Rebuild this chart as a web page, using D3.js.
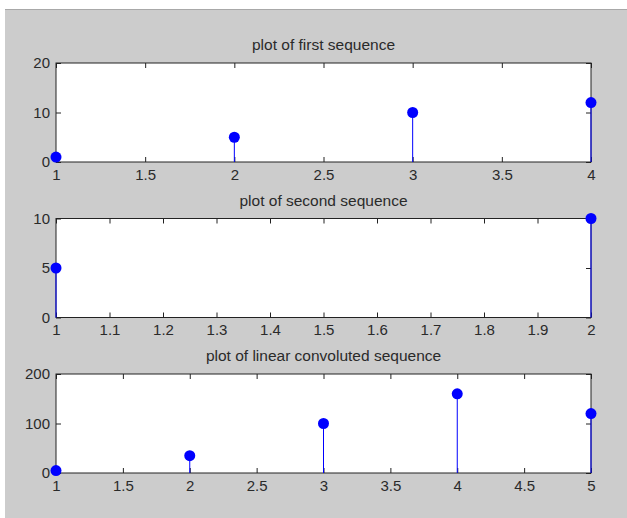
<!DOCTYPE html>
<html>
<head>
<meta charset="utf-8">
<script src="https://cdn.jsdelivr.net/npm/d3@7"></script>
<style>
  body { margin: 0; background: #fff; }
  text { font-family: "Liberation Sans", Arial, sans-serif; }
</style>
</head>
<body>
<script>
// sequences
var firstN = [1, 2, 3, 4];
var firstVals = [1, 5, 10, 12];
var secondN = [1, 2];
var secondVals = [5, 10];
var convN = [1, 2, 3, 4, 5];
var convVals = [5, 35, 100, 160, 120];

var titles = ["plot of first sequence", "plot of second sequence", "plot of linear convoluted sequence"];
var xTicks1 = [1, 1.5, 2, 2.5, 3, 3.5, 4];
var xTicks2 = [1, 1.1, 1.2, 1.3, 1.4, 1.5, 1.6, 1.7, 1.8, 1.9, 2];
var xTicks3 = [1, 1.5, 2, 2.5, 3, 3.5, 4, 4.5, 5];
var yTicks1 = [0, 10, 20];
var yTicks2 = [0, 5, 10];
var yTicks3 = [0, 100, 200];

var W = 627, H = 518;
var svg = d3.select("body").append("svg")
    .attr("width", W)
    .attr("height", H);

// figure background
svg.append("rect")
    .attr("x", 5).attr("y", 10)
    .attr("width", W - 5).attr("height", H - 10)
    .attr("fill", "#cccccc");
svg.append("line")
    .attr("x1", 5).attr("x2", W)
    .attr("y1", 9.5).attr("y2", 9.5)
    .attr("stroke", "#a8a8a8");

var left = 56, right = 591;
var panels = [
    {n: firstN, v: firstVals, xt: xTicks1, yt: yTicks1, top: 63, bottom: 162},
    {n: secondN, v: secondVals, xt: xTicks2, yt: yTicks2, top: 218.5, bottom: 317.5},
    {n: convN, v: convVals, xt: xTicks3, yt: yTicks3, top: 374, bottom: 473}
];

panels.forEach(function (p, i) {
    var x = d3.scaleLinear()
        .domain(d3.extent(p.xt))
        .range([left, right]);
    var y = d3.scaleLinear()
        .domain(d3.extent(p.yt))
        .range([p.bottom, p.top]);

    var g = svg.append("g");

    g.append("rect")
        .attr("x", left).attr("y", p.top)
        .attr("width", right - left).attr("height", p.bottom - p.top)
        .attr("fill", "#fff");

    // ticks inward on all four sides (matlab box style)
    var fmt = function (d) { return String(d); };
    var axes = [
        {ax: d3.axisBottom(x).tickValues(p.xt).tickSize(-5).tickPadding(7).tickFormat(fmt), tr: "translate(0," + p.bottom + ")"},
        {ax: d3.axisTop(x).tickValues(p.xt).tickSize(-5).tickFormat(""), tr: "translate(0," + p.top + ")"},
        {ax: d3.axisLeft(y).tickValues(p.yt).tickSize(-5).tickPadding(6).tickFormat(fmt), tr: "translate(" + left + ",0)"},
        {ax: d3.axisRight(y).tickValues(p.yt).tickSize(-5).tickFormat(""), tr: "translate(" + right + ",0)"}
    ];
    axes.forEach(function (a) {
        var ag = g.append("g").attr("transform", a.tr).call(a.ax);
        ag.select(".domain").remove();
        ag.selectAll(".tick line").attr("stroke", "#222");
        ag.selectAll("text")
            .attr("fill", "#2a2a2a")
            .style("font-size", "15px")
            .style("font-family", "'Liberation Sans', Arial, sans-serif");
    });

    g.append("rect")
        .attr("x", left).attr("y", p.top)
        .attr("width", right - left).attr("height", p.bottom - p.top)
        .attr("fill", "none")
        .attr("stroke", "#222")
        .attr("stroke-width", 1);

    g.append("text")
        .attr("x", (left + right) / 2)
        .attr("y", p.top - 13)
        .attr("text-anchor", "middle")
        .attr("fill", "#2a2a2a")
        .style("font-size", "15.5px")
        .text(titles[i]);

    var pts = p.n.map(function (n, k) { return {n: n, v: p.v[k]}; });

    g.selectAll(".stem")
        .data(pts)
        .enter().append("line")
        .attr("class", "stem")
        .attr("x1", function (d) { return x(d.n); })
        .attr("x2", function (d) { return x(d.n); })
        .attr("y1", y(0))
        .attr("y2", function (d) { return y(d.v); })
        .attr("stroke", "#0000ff")
        .attr("stroke-width", 1);

    g.selectAll(".dot")
        .data(pts)
        .enter().append("circle")
        .attr("class", "dot")
        .attr("cx", function (d) { return x(d.n); })
        .attr("cy", function (d) { return y(d.v); })
        .attr("r", 5.5)
        .attr("fill", "#0000ff");
});
</script>
</body>
</html>
